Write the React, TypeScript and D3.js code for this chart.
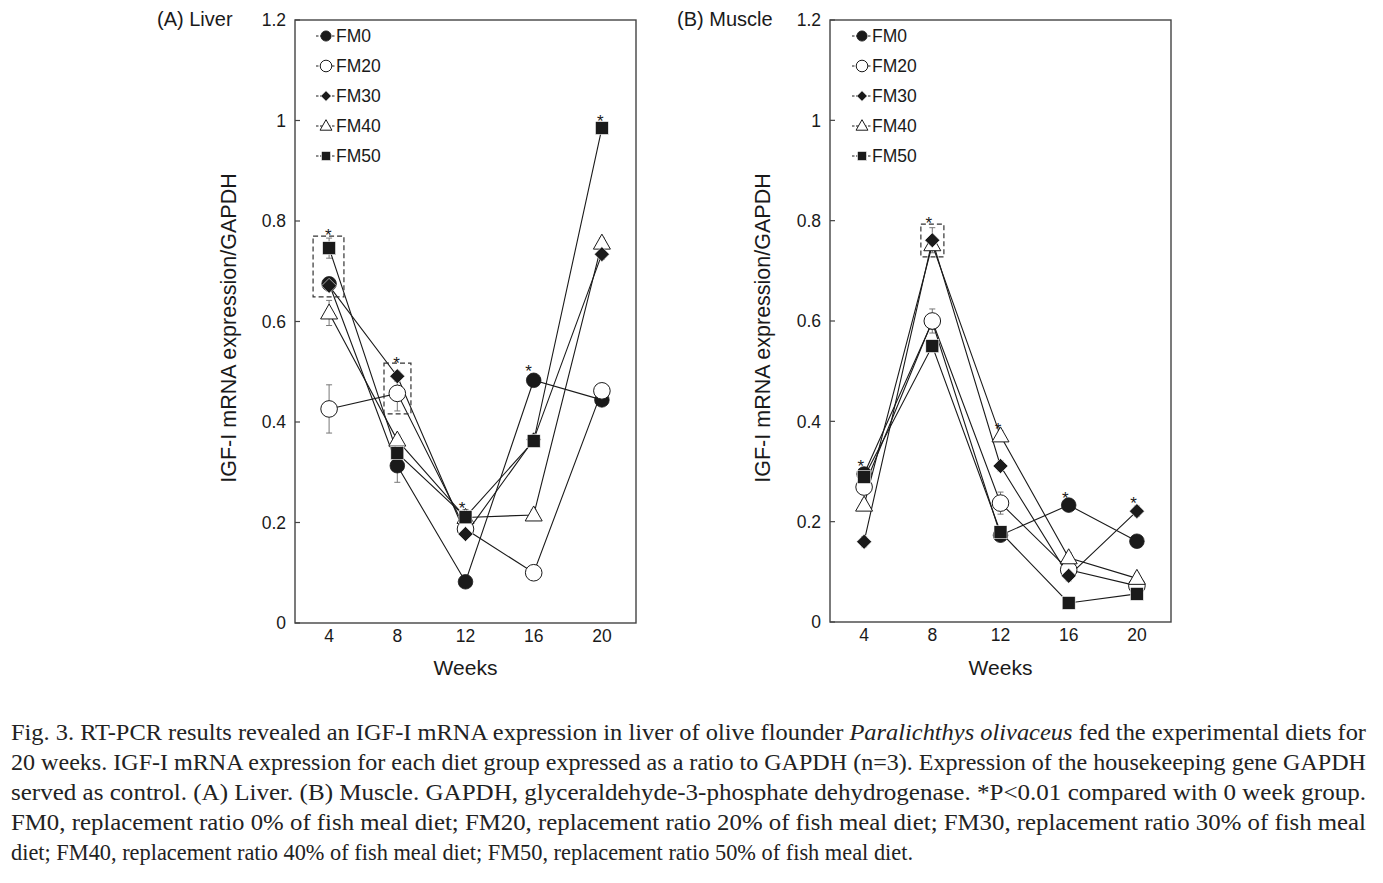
import React from 'react';
import * as d3 from 'd3';

const weeks = [4, 8, 12, 16, 20];
const seriesNames = ['FM0', 'FM20', 'FM30', 'FM40', 'FM50'];
const yTickValues = [0, 0.2, 0.4, 0.6, 0.8, 1, 1.2];

// Liver (A)
const liverFM0 = [0.675, 0.313, 0.082, 0.483, 0.444];
const liverFM20 = [0.426, 0.457, 0.187, 0.1, 0.462];
const liverFM30 = [0.671, 0.491, 0.177, 0.365, 0.734];
const liverFM40 = [0.617, 0.364, 0.21, 0.215, 0.756];
const liverFM50 = [0.746, 0.338, 0.211, 0.362, 0.985];
const liverErrFM0 = [0.01, 0.033, 0.005, 0.012, 0.008];
const liverErrFM20 = [0.048, 0.035, 0.01, 0.005, 0.008];
const liverErrFM30 = [0.01, 0.01, 0.005, 0.01, 0.01];
const liverErrFM40 = [0.025, 0.01, 0.01, 0.01, 0.01];
const liverErrFM50 = [0.02, 0.01, 0.015, 0.01, 0.005];
const liverStars = [
  { w: 3.95, v: 0.778 },
  { w: 7.95, v: 0.523 },
  { w: 11.8, v: 0.235 },
  { w: 15.7, v: 0.507 },
  { w: 19.9, v: 1.005 },
];
const liverBoxes = [
  { w0: 3.06, w1: 4.87, v0: 0.649, v1: 0.77 },
  { w0: 7.22, w1: 8.8, v0: 0.416, v1: 0.517 },
];

// Muscle (B)
const muscleFM0 = [0.295, 0.598, 0.173, 0.233, 0.161];
const muscleFM20 = [0.269, 0.6, 0.237, 0.104, 0.072];
const muscleFM30 = [0.16, 0.761, 0.311, 0.092, 0.221];
const muscleFM40 = [0.233, 0.752, 0.371, 0.128, 0.087];
const muscleFM50 = [0.289, 0.55, 0.179, 0.038, 0.056];
const muscleErrFM0 = [0.01, 0.01, 0.01, 0.01, 0.01];
const muscleErrFM20 = [0.01, 0.024, 0.022, 0.01, 0.01];
const muscleErrFM30 = [0.01, 0.025, 0.01, 0.01, 0.01];
const muscleErrFM40 = [0.01, 0.01, 0.01, 0.01, 0.01];
const muscleErrFM50 = [0.01, 0.01, 0.01, 0.01, 0.01];
const muscleStars = [
  { w: 3.8, v: 0.317 },
  { w: 7.8, v: 0.801 },
  { w: 11.85, v: 0.391 },
  { w: 15.8, v: 0.253 },
  { w: 19.8, v: 0.243 },
];
const muscleBoxes = [{ w0: 7.33, w1: 8.68, v0: 0.728, v1: 0.793 }];

const captionLines = [
  ['Fig. 3. RT-PCR results revealed an IGF-I mRNA expression in liver of olive flounder ', 'Paralichthys olivaceus', ' fed the experimental diets for'],
  ['20 weeks. IGF-I mRNA expression for each diet group expressed as a ratio to GAPDH (n=3). Expression of the housekeeping gene GAPDH'],
  ['served as control. (A) Liver. (B) Muscle. GAPDH, glyceraldehyde-3-phosphate dehydrogenase. *P<0.01 compared with 0 week group.'],
  ['FM0, replacement ratio 0% of fish meal diet; FM20, replacement ratio 20% of fish meal diet; FM30, replacement ratio 30% of fish meal'],
  ['diet; FM40, replacement ratio 40% of fish meal diet; FM50, replacement ratio 50% of fish meal diet.'],
];
const captionWidths = [1355, 1355, 1355, 1355, 902];

type Shape = 'fcircle' | 'ocircle' | 'diamond' | 'triangle' | 'square';
const shapes: Shape[] = ['fcircle', 'ocircle', 'diamond', 'triangle', 'square'];
const drawOrder = [0, 1, 3, 2, 4];

const INK = '#1a1a1a';
const SANS = 'Arial, "Liberation Sans", Helvetica, sans-serif';
const SERIF = '"Liberation Serif", "Times New Roman", Times, serif';

function Marker({ shape, x, y, s = 1 }: { shape: Shape; x: number; y: number; s?: number }) {
  switch (shape) {
    case 'fcircle':
      return <circle cx={x} cy={y} r={7.3 * s} fill={INK} stroke={INK} strokeWidth={0.8} />;
    case 'ocircle':
      return <circle cx={x} cy={y} r={8.3 * s} fill="#fff" stroke={INK} strokeWidth={1} />;
    case 'diamond': {
      const d = 7.5 * s;
      return <path d={`M${x},${y - d}L${x + d},${y}L${x},${y + d}L${x - d},${y}Z`} fill={INK} stroke="#fff" strokeWidth={0.6} />;
    }
    case 'triangle': {
      const w = 8.5 * s;
      const h = 15 * s;
      return <path d={`M${x},${y - h * 0.6}L${x + w},${y + h * 0.4}L${x - w},${y + h * 0.4}Z`} fill="#fff" stroke={INK} strokeWidth={1} />;
    }
    case 'square': {
      const a = 6.5 * s;
      return <rect x={x - a} y={y - a} width={2 * a} height={2 * a} fill={INK} stroke="#fff" strokeWidth={0.6} />;
    }
  }
  return null;
}

interface PanelProps {
  left: number; right: number; top: number; bottom: number;
  title: string; titleX: number;
  yLabelX: number;
  legendX: number; legendTextX: number;
  series: number[][];
  errors: number[][];
  stars: { w: number; v: number }[];
  boxes: { w0: number; w1: number; v0: number; v1: number }[];
}

function Panel(p: PanelProps) {
  const x = d3.scaleLinear().domain([2, 22]).range([p.left, p.right]);
  const y = d3.scaleLinear().domain([0, 1.2]).range([p.bottom, p.top]);
  const fmt = d3.format('~g');
  const line = d3.line<[number, number]>().x((d) => x(d[0])).y((d) => y(d[1]));
  const legendY = [36, 66, 96, 126, 156];
  return (
    <g>
      {p.series.map((vals, si) =>
        vals.map((v, i) => {
          const e = p.errors[si][i];
          const cx = x(weeks[i]);
          return (
            <g key={`e${si}-${i}`} stroke="#777" strokeWidth={1}>
              <line x1={cx} x2={cx} y1={y(v - e)} y2={y(v + e)} />
              <line x1={cx - 3} x2={cx + 3} y1={y(v - e)} y2={y(v - e)} />
              <line x1={cx - 3} x2={cx + 3} y1={y(v + e)} y2={y(v + e)} />
            </g>
          );
        })
      )}
      {drawOrder.map((si) => (
        <path key={`l${si}`} d={line(weeks.map((w, i) => [w, p.series[si][i]]) as [number, number][]) || ''} fill="none" stroke={INK} strokeWidth={1.1} />
      ))}
      {drawOrder.map((si) =>
        p.series[si].map((v, i) => <Marker key={`m${si}-${i}`} shape={shapes[si]} x={x(weeks[i])} y={y(v)} />)
      )}
      {p.boxes.map((b, i) => (
        <rect key={`b${i}`} x={x(b.w0)} y={y(b.v1)} width={x(b.w1) - x(b.w0)} height={y(b.v0) - y(b.v1)} fill="none" stroke="#333" strokeWidth={1.2} strokeDasharray="5,3" />
      ))}
      {p.stars.map((s, i) => (
        <text key={`s${i}`} x={x(s.w)} y={y(s.v) + 9} textAnchor="middle" fontSize={17} fontFamily={SANS} fill={INK}>*</text>
      ))}
      {seriesNames.map((n, i) => (
        <g key={`lg${i}`}>
          <line x1={p.legendX - 10} x2={p.legendX + 10} y1={legendY[i]} y2={legendY[i]} stroke={INK} strokeWidth={1} strokeDasharray="2.5,1.5" />
          <Marker shape={shapes[i]} x={p.legendX} y={legendY[i]} s={0.7} />
          <text x={p.legendTextX} y={legendY[i] + 6} fontSize={17.5} fontFamily={SANS} fill={INK}>{n}</text>
        </g>
      ))}
      <rect x={p.left} y={p.top} width={p.right - p.left} height={p.bottom - p.top} fill="none" stroke="#444" strokeWidth={1.4} />
      {yTickValues.map((t) => (
        <g key={`yt${t}`}>
          <line x1={p.left} x2={p.left + 5} y1={y(t)} y2={y(t)} stroke="#444" strokeWidth={1.2} />
          <text x={p.left - 9} y={y(t)} dy="0.36em" textAnchor="end" fontSize={17.5} fontFamily={SANS} fill={INK}>{fmt(t)}</text>
        </g>
      ))}
      {weeks.map((w) => (
        <text key={`xt${w}`} x={x(w)} y={p.bottom + 19} textAnchor="middle" fontSize={17.5} fontFamily={SANS} fill={INK}>{w}</text>
      ))}
      <text x={(p.left + p.right) / 2} y={675} textAnchor="middle" fontSize={21} fontFamily={SANS} fill={INK}>Weeks</text>
      <text transform={`translate(${p.yLabelX},328) rotate(-90)`} textAnchor="middle" fontSize={21.5} fontFamily={SANS} fill={INK}>IGF-I mRNA expression/GAPDH</text>
      <text x={p.titleX} y={26} fontSize={20} fontFamily={SANS} fill={INK}>{p.title}</text>
    </g>
  );
}

export default function App() {
  return (
    <svg width={1383} height={883} style={{ position: 'absolute', left: 0, top: 0, background: '#fff' }}>
      <rect width={1383} height={883} fill="#fff" />
      <Panel
        left={295} right={636} top={20} bottom={623}
        title="(A) Liver" titleX={157} yLabelX={236}
        legendX={326} legendTextX={336}
        series={[liverFM0, liverFM20, liverFM30, liverFM40, liverFM50]}
        errors={[liverErrFM0, liverErrFM20, liverErrFM30, liverErrFM40, liverErrFM50]}
        stars={liverStars} boxes={liverBoxes}
      />
      <Panel
        left={830} right={1171} top={20} bottom={622}
        title="(B) Muscle" titleX={677} yLabelX={770}
        legendX={862} legendTextX={872}
        series={[muscleFM0, muscleFM20, muscleFM30, muscleFM40, muscleFM50]}
        errors={[muscleErrFM0, muscleErrFM20, muscleErrFM30, muscleErrFM40, muscleErrFM50]}
        stars={muscleStars} boxes={muscleBoxes}
      />
      {captionLines.map((parts, i) => (
        <text key={`c${i}`} x={11} y={740 + i * 30} fontSize={23.5} fontFamily={SERIF} fill="#222" textLength={captionWidths[i]} lengthAdjust="spacingAndGlyphs">
          {parts.map((t, j) => (
            <tspan key={j} fontStyle={parts.length === 3 && j === 1 ? 'italic' : 'normal'}>{t}</tspan>
          ))}
        </text>
      ))}
    </svg>
  );
}
